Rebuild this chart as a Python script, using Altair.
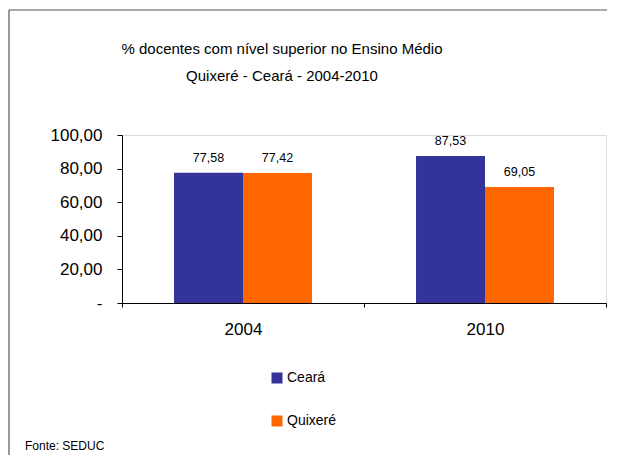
import altair as alt
import pandas as pd

years = ["2004", "2010"]
series = ["Ceará", "Quixeré"]
ceara = [77.58, 87.53]
quixere = [77.42, 69.05]
colors = ["#333399", "#FF6600"]
y_ticks = [0, 20, 40, 60, 80, 100]
title_lines = ["% docentes com nível  superior no Ensino Médio", "Quixeré  -  Ceará - 2004-2010"]
source_note = "Fonte: SEDUC"

rows = []
for i, yr in enumerate(years):
    for s, vals in zip(series, [ceara, quixere]):
        rows.append({"ano": yr, "serie": s, "valor": vals[i],
                     "rotulo": f"{vals[i]:.2f}".replace(".", ",")})
df = pd.DataFrame(rows)

FONT = "Liberation Sans"

x = alt.X("ano:N", title=None, sort=years,
          scale=alt.Scale(paddingInner=0, paddingOuter=0),
          axis=alt.Axis(labelAngle=0, tickBand="extent", labelFontSize=17,
                        labelPadding=14, tickSize=4, domainColor="black",
                        tickColor="black", labelColor="black", labelFont=FONT))
xoff = alt.XOffset("serie:N", sort=series,
                   scale=alt.Scale(paddingInner=0, paddingOuter=0.754))
y = alt.Y("valor:Q", title=None,
          scale=alt.Scale(domain=[0, 100], nice=False),
          axis=alt.Axis(values=y_ticks, grid=False,
                        labelExpr="datum.value == 0 ? '-' : replace(format(datum.value, '.2f'), '.', ',')",
                        labelFontSize=17, labelPadding=15, tickSize=5,
                        domainColor="black", tickColor="black",
                        labelColor="black", labelFont=FONT))
color = alt.Color("serie:N", sort=series,
                  scale=alt.Scale(domain=series, range=colors),
                  legend=alt.Legend(title=None, orient="none", legendX=148, legendY=236,
                                    symbolType="square", symbolSize=121,
                                    symbolStrokeWidth=0, labelFontSize=14,
                                    labelFont=FONT, labelColor="black",
                                    rowPadding=29, labelOffset=3))

bars = alt.Chart(df).mark_bar().encode(x=x, xOffset=xoff, y=y, color=color)
labels = alt.Chart(df).mark_text(dy=-11, baseline="alphabetic", fontSize=12.5,
                                 font=FONT, color="black").encode(
    x=x, xOffset=xoff, y=y, text="rotulo:N")

one = alt.Data(values=[{"k": 1}])
top_line = alt.Chart(one).mark_rule(color="#555555", strokeWidth=1.2).encode(
    x=alt.value(-113), x2=alt.value(485), y=alt.value(-125))
left_line = alt.Chart(one).mark_rule(color="#555555", strokeWidth=1.2).encode(
    x=alt.value(-113), y=alt.value(-125), y2=alt.value(320))
title = alt.Chart(one).mark_text(align="center", baseline="alphabetic", fontSize=15,
                                 font=FONT, color="black", lineHeight=27).encode(
    x=alt.value(160), y=alt.value(-81), text=alt.value(title_lines))
footer = alt.Chart(one).mark_text(align="left", baseline="alphabetic", fontSize=12,
                                  font=FONT, color="black").encode(
    x=alt.value(-97), y=alt.value(315), text=alt.value(source_note))

chart = alt.layer(top_line, left_line, title, footer, bars, labels).properties(
    width=484, height=168,
    autosize=alt.AutoSizeParams(type="none"),
    padding={"left": 114, "top": 127, "right": 9, "bottom": 152},
).configure_view(stroke=None).configure(background="white")

chart.save("out.html", embed_options={"renderer": "svg", "actions": False})
